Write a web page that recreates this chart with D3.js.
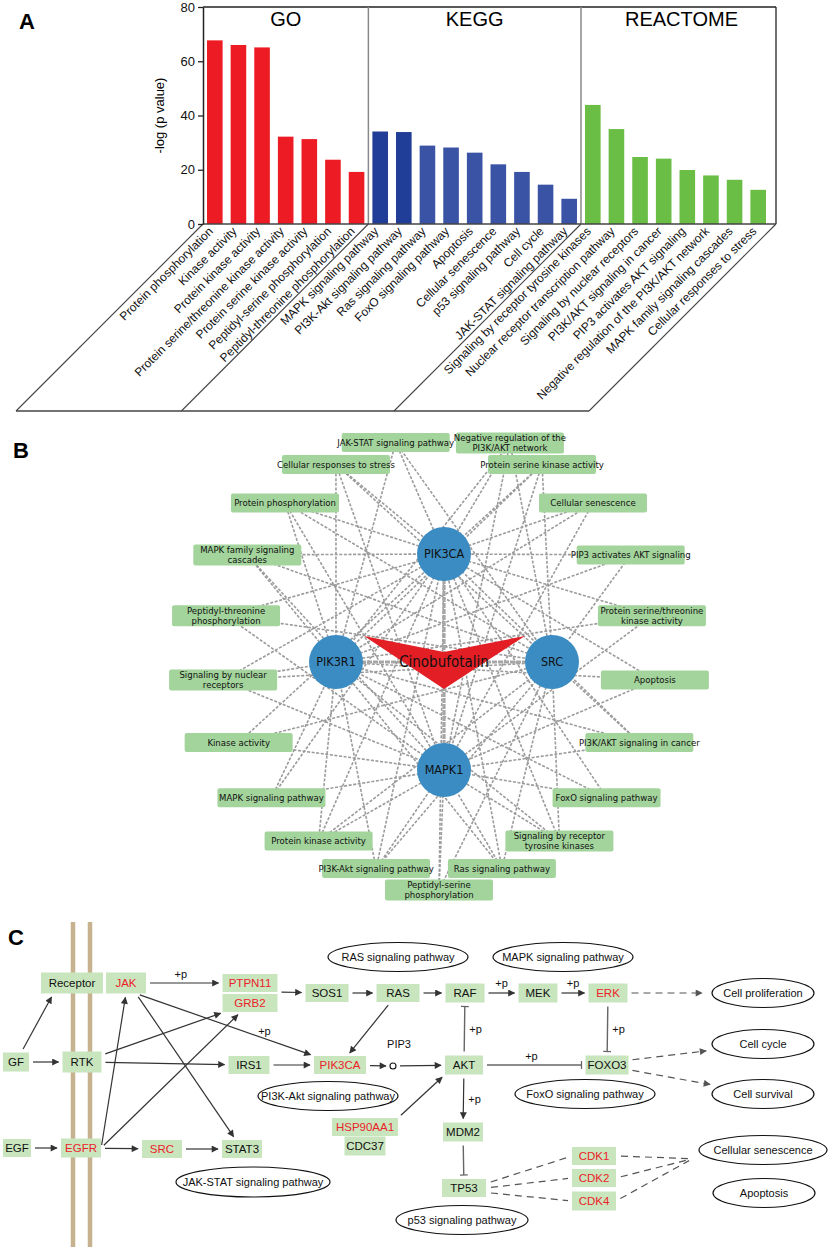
<!DOCTYPE html>
<html>
<head>
<meta charset="utf-8">
<script src="https://cdn.jsdelivr.net/npm/d3@7"></script>
<style>
  body { margin: 0; background: #fff; }
  svg { display: block; font-family: "Liberation Sans", Arial, sans-serif; }
  .narrow { font-family: "Liberation Sans Narrow", "Arial Narrow", "DejaVu Sans Condensed", sans-serif; }
</style>
</head>
<body>
<svg id="fig" width="830" height="1250"></svg>
<script>
// ---------- Panel A data ----------
const goTerms = ["Protein phosphorylation", "Kinase activity", "Protein kinase activity",
  "Protein serine/threonine kinase activity", "Protein serine kinase activity",
  "Peptidyl-serine phosphorylation", "Peptidyl-threonine phosphorylation"];
const goValues = [67.7, 66.0, 65.1, 32.2, 31.3, 23.7, 19.2];

const keggTerms = ["MAPK signaling pathway", "PI3K-Akt signaling pathway", "Ras signaling pathway",
  "FoxO signaling pathway", "Apoptosis", "Cellular senescence", "p53 signaling pathway",
  "Cell cycle", "JAK-STAT signaling pathway"];
const keggValues = [34.1, 33.9, 28.9, 28.2, 26.3, 22.0, 19.2, 14.5, 9.3];

const reactomeTerms = ["Signaling by receptor tyrosine kinases", "Nuclear receptor transcription pathway",
  "Signaling by nuclear receptors", "PI3K/AKT signaling in cancer", "PIP3 activates AKT signaling",
  "Negative regulation of the PI3K/AKT network", "MAPK family signaling cascades",
  "Cellular responses to stress"];
const reactomeValues = [43.9, 35.0, 24.7, 24.1, 19.9, 17.9, 16.3, 12.6];

const groupNames = ["GO", "KEGG", "REACTOME"];
const yTicks = [0, 20, 40, 60, 80];

// ---------- Panel B data ----------
const genes = ["PIK3CA", "SRC", "MAPK1", "PIK3R1"];   // clockwise from top
const compound = "Cinobufotalin";
// pathway terms, clockwise from top right
const netTerms = [
  ["Negative regulation of the", "PI3K/AKT network"],
  ["Protein serine kinase activity"],
  ["Cellular senescence"],
  ["PIP3 activates AKT signaling"],
  ["Protein serine/threonine", "kinase activity"],
  ["Apoptosis"],
  ["PI3K/AKT signaling in cancer"],
  ["FoxO signaling pathway"],
  ["Signaling by receptor", "tyrosine kinases"],
  ["Ras signaling pathway"],
  ["Peptidyl-serine", "phosphorylation"],
  ["PI3K-Akt signaling pathway"],
  ["Protein kinase activity"],
  ["MAPK signaling pathway"],
  ["Kinase activity"],
  ["Signaling by nuclear", "receptors"],
  ["Peptidyl-threonine", "phosphorylation"],
  ["MAPK family signaling", "cascades"],
  ["Protein phosphorylation"],
  ["Cellular responses to stress"],
  ["JAK-STAT signaling pathway"]
];
const termGenes = [
  ["PIK3CA", "PIK3R1", "SRC", "MAPK1"],
  ["PIK3CA", "PIK3R1", "SRC", "MAPK1"],
  ["PIK3CA", "PIK3R1", "MAPK1"],
  ["PIK3CA", "PIK3R1", "SRC"],
  ["PIK3CA", "MAPK1", "PIK3R1"],
  ["PIK3CA", "PIK3R1", "MAPK1"],
  ["PIK3CA", "PIK3R1", "SRC", "MAPK1"],
  ["PIK3CA", "PIK3R1", "MAPK1"],
  ["PIK3CA", "PIK3R1", "SRC", "MAPK1"],
  ["PIK3CA", "PIK3R1", "SRC", "MAPK1"],
  ["PIK3CA", "MAPK1", "SRC"],
  ["PIK3CA", "PIK3R1", "SRC", "MAPK1"],
  ["PIK3CA", "SRC", "MAPK1", "PIK3R1"],
  ["PIK3CA", "PIK3R1", "MAPK1"],
  ["PIK3CA", "SRC", "MAPK1"],
  ["PIK3CA", "PIK3R1", "SRC", "MAPK1"],
  ["PIK3CA", "MAPK1", "SRC"],
  ["PIK3CA", "PIK3R1", "SRC", "MAPK1"],
  ["PIK3CA", "PIK3R1", "SRC", "MAPK1"],
  ["PIK3CA", "PIK3R1", "SRC", "MAPK1"],
  ["PIK3CA", "PIK3R1", "SRC"]
];

// ---------- Panel C data ----------
const cGenes = ["Receptor", "JAK", "PTPN11", "GRB2", "SOS1", "RAS", "RAF", "MEK", "ERK", "GF", "RTK",
  "IRS1", "PIK3CA", "AKT", "FOXO3", "HSP90AA1", "CDC37", "MDM2", "EGF", "EGFR", "SRC", "STAT3",
  "TP53", "CDK1", "CDK2", "CDK4"];
const cHits = ["JAK", "PTPN11", "GRB2", "ERK", "PIK3CA", "HSP90AA1", "EGFR", "SRC", "CDK1", "CDK2", "CDK4"];
const cPathways = ["RAS signaling pathway", "MAPK signaling pathway", "PI3K-Akt signaling pathway",
  "FoxO signaling pathway", "JAK-STAT signaling pathway", "p53 signaling pathway"];
const cOutcomes = ["Cell proliferation", "Cell cycle", "Cell survival", "Cellular senescence", "Apoptosis"];
const cMetabolite = "PIP3";
// [source, target, kind, label]
const cEdges = [
  ["GF", "Receptor", "act", ""], ["GF", "RTK", "act", ""], ["EGF", "EGFR", "act", ""],
  ["JAK", "PTPN11", "act", "+p"],
  ["PTPN11", "SOS1", "act", ""], ["SOS1", "RAS", "act", ""], ["RAS", "RAF", "act", ""],
  ["RAF", "MEK", "act", "+p"], ["MEK", "ERK", "act", "+p"], ["ERK", "Cell proliferation", "dash", ""],
  ["RAS", "PIK3CA", "act", ""], ["RTK", "IRS1", "act", ""], ["IRS1", "PIK3CA", "act", ""],
  ["PIK3CA", "PIP3", "act", ""], ["PIP3", "AKT", "act", ""], ["RTK", "GRB2", "act", ""],
  ["JAK", "PIK3CA", "act", "+p"], ["JAK", "STAT3", "act", ""], ["EGFR", "JAK", "act", ""],
  ["EGFR", "GRB2", "act", ""], ["EGFR", "SRC", "act", ""], ["SRC", "STAT3", "act", ""],
  ["HSP90AA1", "AKT", "act", ""], ["AKT", "RAF", "inh", "+p"], ["ERK", "FOXO3", "inh", "+p"],
  ["AKT", "FOXO3", "inh", "+p"], ["FOXO3", "Cell cycle", "dash", ""], ["FOXO3", "Cell survival", "dash", ""],
  ["AKT", "MDM2", "act", "+p"], ["MDM2", "TP53", "inh", ""],
  ["TP53", "CDK1", "link", ""], ["TP53", "CDK2", "link", ""], ["TP53", "CDK4", "link", ""],
  ["CDK1", "Cellular senescence", "link", ""], ["CDK2", "Cellular senescence", "link", ""],
  ["CDK4", "Cellular senescence", "link", ""]
];

// ---------- Panel C layout (diagram units, kept apart from the data) ----------
const layoutC = {
  Receptor: [72, 63, 62, 21], JAK: [126, 63, 40, 21], PTPN11: [250, 63, 55, 18], GRB2: [250, 83, 55, 18],
  SOS1: [327, 73, 43, 18], RAS: [398, 73, 43, 18], RAF: [465, 73, 39, 19], MEK: [538, 73, 39, 19],
  ERK: [608, 73, 39, 19], GF: [16, 142, 26, 19], RTK: [82, 142, 39, 21], IRS1: [249, 145, 41, 18],
  PIK3CA: [340, 145, 52, 18], AKT: [464, 145, 38, 19], FOXO3: [607, 145, 43, 19],
  HSP90AA1: [365, 207, 66, 18], CDC37: [365, 226, 41, 19], MDM2: [463, 212, 40, 19],
  EGF: [17, 228, 28, 18], EGFR: [81, 228, 40, 19], SRC: [162, 229, 40, 18], STAT3: [242, 229, 40, 18],
  TP53: [464, 268, 44, 18], CDK1: [594, 236, 44, 18], CDK2: [594, 258, 44, 18], CDK4: [594, 281, 44, 19],
  "RAS signaling pathway": [398, 37, 70, 14.5], "MAPK signaling pathway": [563, 37, 70, 14.5],
  "Cell proliferation": [763, 73, 51, 14.5], "Cell cycle": [763, 124, 51, 14.5],
  "PI3K-Akt signaling pathway": [328, 176, 70, 14.5], "FoxO signaling pathway": [585, 174, 70, 14.5],
  "Cell survival": [763, 174, 51, 14.5], "Cellular senescence": [763, 230, 64, 14.5],
  "JAK-STAT signaling pathway": [253, 262, 77, 15], "Apoptosis": [764, 273, 51, 14.5],
  "p53 signaling pathway": [462, 300, 66, 14.5], PIP3: [393, 146, 3, 3]
};
// optional edge anchors (fraction of half size) and label placement
const anchorsC = {
  "GF>Receptor": {ta: [-0.6, 1]}, "PTPN11>SOS1": {sa: [1, 1]},
  "JAK>PIK3CA": {sa: [0.5, 1]}, "JAK>STAT3": {sa: [0.5, 1]},
  "EGFR>JAK": {sa: [1, 0.1], ta: [0, 1]}, "EGFR>GRB2": {sa: [1, 0]},
  "HSP90AA1>AKT": {sa: [1, -1], ta: [-1, 1]},
  "FOXO3>Cell cycle": {sa: [1, -0.5]}, "FOXO3>Cell survival": {sa: [1, 0.5]},
  "TP53>CDK1": {sa: [1, -0.5], ta: [-1, 0]}, "TP53>CDK2": {sa: [1, 0], ta: [-1, 0]},
  "TP53>CDK4": {sa: [1, 0.5], ta: [-1, 0]},
  "CDK1>Cellular senescence": {sa: [1, 0], ta: [-1.1, 0.6]},
  "CDK2>Cellular senescence": {sa: [1, 0], ta: [-1.1, 0.6]},
  "CDK4>Cellular senescence": {sa: [1, 0], ta: [-1.1, 0.6]}
};
const labelPosC = {
  "JAK>PTPN11": [0.45, 0, -5], "RAF>MEK": [0.5, 0, -6], "MEK>ERK": [0.5, 0, -6],
  "JAK>PIK3CA": [0.73, 0, -4], "AKT>RAF": [0.5, 11, 4], "ERK>FOXO3": [0.5, 11, 4],
  "AKT>FOXO3": [0.47, 0, -5], "AKT>MDM2": [0.5, 11, 4]
};

const svg = d3.select("#fig");

// panel letters
svg.selectAll(".letter").data([["A", 19, 29], ["B", 13, 458], ["C", 8, 945]])
  .join("text").attr("x", d => d[1]).attr("y", d => d[2])
  .attr("font-size", 22).attr("font-weight", "bold").text(d => d[0]);

// ================= Panel A =================
const A = svg.append("g");
const barTerms = goTerms.concat(keggTerms, reactomeTerms);
const barValues = goValues.concat(keggValues, reactomeValues);
const barGroup = goTerms.map(() => 0).concat(keggTerms.map(() => 1), reactomeTerms.map(() => 2));
const groupStart = [0, goTerms.length, goTerms.length + keggTerms.length];

const x = d3.scaleBand().domain(barTerms).range([203, 770]).paddingInner(0.34).paddingOuter(0.17);
const y = d3.scaleLinear().domain([0, 80]).range([224, 7]);
const frameRight = 776;
const labelDepth = 187;

function barColor(i) {
  const g = barGroup[i];
  if (g === 0) return "#ed1c24";
  if (g === 1) return (i - groupStart[1]) < 2 ? "#203e97" : "#3a53a4";
  return "#6abd45";
}

A.selectAll(".bar").data(barTerms).join("rect")
  .attr("x", d => x(d)).attr("width", x.bandwidth())
  .attr("y", (d, i) => y(barValues[i])).attr("height", (d, i) => y(0) - y(barValues[i]))
  .attr("fill", (d, i) => barColor(i));

// group boundaries
const gap = x.step() * x.paddingInner() / 2;
const bounds = [x.range()[0],
  x(barTerms[groupStart[1]]) - gap, x(barTerms[groupStart[2]]) - gap, frameRight];

// frame
A.append("line").attr("x1", bounds[0]).attr("x2", bounds[3]).attr("y1", y(80)).attr("y2", y(80))
  .attr("stroke", "#222").attr("stroke-width", 1.3);
A.append("line").attr("x1", bounds[3]).attr("x2", bounds[3]).attr("y1", y(80)).attr("y2", y(0))
  .attr("stroke", "#222").attr("stroke-width", 1.3);
A.selectAll(".div").data(bounds.slice(1, 3)).join("line")
  .attr("x1", d => d).attr("x2", d => d).attr("y1", y(80)).attr("y2", y(0))
  .attr("stroke", "#888").attr("stroke-width", 1.5);
A.append("line").attr("x1", bounds[0]).attr("x2", bounds[3]).attr("y1", y(0)).attr("y2", y(0))
  .attr("stroke", "#444").attr("stroke-width", 1.3);
// skewed label box
A.selectAll(".diag").data(bounds).join("line")
  .attr("x1", d => d).attr("y1", y(0)).attr("x2", d => d - labelDepth).attr("y2", y(0) + labelDepth)
  .attr("stroke", "#444").attr("stroke-width", 1.1);
A.append("line").attr("x1", bounds[0] - labelDepth).attr("x2", bounds[3] - labelDepth)
  .attr("y1", y(0) + labelDepth).attr("y2", y(0) + labelDepth)
  .attr("stroke", "#444").attr("stroke-width", 1.3);

// headers
A.selectAll(".hdr").data(groupNames).join("text")
  .attr("x", (d, i) => (bounds[i] + bounds[i + 1]) / 2 + (i === 2 ? 3 : 0)).attr("y", 26)
  .attr("text-anchor", "middle").attr("font-size", 20).text(d => d);

// y axis
const yAxis = A.append("g").attr("transform", `translate(${bounds[0]},0)`)
  .call(d3.axisLeft(y).tickValues(yTicks).tickSize(5).tickSizeOuter(0).tickPadding(3));
yAxis.select(".domain").attr("stroke", "#222").attr("stroke-width", 1.5);
yAxis.selectAll(".tick line").attr("stroke", "#222").attr("stroke-width", 1.3);
yAxis.selectAll("text").attr("font-size", 13).attr("fill", "#111")
  .attr("font-family", "'Liberation Sans', Arial, sans-serif");
A.append("text").attr("transform", `translate(164,${(y(0) + y(80)) / 2}) rotate(-90)`)
  .attr("text-anchor", "middle").attr("font-size", 13).text("-log (p value)");

// category labels
A.selectAll(".xl").data(barTerms).join("text")
  .attr("transform", d => `translate(${x(d) + x.bandwidth() / 2 - 4},${y(0) + 5}) rotate(-45)`)
  .attr("text-anchor", "end").attr("dy", "0.35em").attr("font-size", 12).attr("fill", "#111")
  .text(d => d);

// ================= Panel B =================
const B = svg.append("g");
const rad = d => d * Math.PI / 180;
const termCenter = {x: 439, y: 658}, termR = {x: 217, y: 220};
const geneCenter = {x: 444, y: 662}, geneR = 108;
// angles around the ring: a wider gap on the top right, even spacing elsewhere
const termAngle = d3.scaleLinear().domain([0, 1, netTerms.length - 1]).range([18.5, 28.35, 348.5]);
const geneAngle = d3.scalePoint().domain(genes).range([0, 270]);
// the top-right and bottom terms sit a little further out so that they clear their neighbours
const termRadial = i => i === 10 ? 1.055 : i === 0 ? 1.03 : 1;

const termNodes = netTerms.map((lines, i) => ({
  lines, genes: termGenes[i],
  x: termCenter.x + termRadial(i) * termR.x * Math.sin(rad(termAngle(i))),
  y: termCenter.y - termRadial(i) * termR.y * Math.cos(rad(termAngle(i)))
}));
const geneNodes = genes.map(g => ({
  id: g,
  x: geneCenter.x + geneR * Math.sin(rad(geneAngle(g))),
  y: geneCenter.y - geneR * Math.cos(rad(geneAngle(g)))
}));
const geneById = Object.fromEntries(geneNodes.map(g => [g.id, g]));
const links = termNodes.flatMap(t => t.genes.map(g => [t, geneById[g]]));

B.selectAll(".link").data(links).join("line")
  .attr("x1", d => d[0].x).attr("y1", d => d[0].y).attr("x2", d => d[1].x).attr("y2", d => d[1].y)
  .attr("stroke", "#9b9b9b").attr("stroke-width", 1.6).attr("stroke-dasharray", "3,1.6");

B.selectAll(".clink").data(geneNodes).join("line")
  .attr("x1", geneCenter.x).attr("y1", geneCenter.y).attr("x2", d => d.x).attr("y2", d => d.y)
  .attr("stroke", "#a6a6a6").attr("stroke-width", 3.2).attr("stroke-dasharray", "5,1");

const boxW = 108;
const tb = B.selectAll(".term").data(termNodes).join("g")
  .attr("transform", d => `translate(${d.x},${d.y})`);
tb.append("rect")
  .attr("x", -boxW / 2).attr("width", boxW)
  .attr("y", d => d.lines.length > 1 ? -10.5 : -9.5).attr("height", d => d.lines.length > 1 ? 21 : 19)
  .attr("rx", 2).attr("fill", "#a3d49c");
tb.each(function (d) {
  const g = d3.select(this);
  d.lines.forEach((t, k) => {
    g.append("text").attr("class", "narrow").attr("text-anchor", "middle")
      .attr("y", d.lines.length > 1 ? (k === 0 ? -5 : 5) : 0).attr("dy", "0.35em")
      .attr("font-size", 9.5).attr("fill", "#111").text(t);
  });
});

// compound chevron
const chevron = [[-80, -26], [0, -10], [81, -26], [0, 27]];
B.append("path")
  .attr("d", d3.line()(chevron.map(p => [geneCenter.x + p[0], geneCenter.y + p[1]])) + "Z")
  .attr("fill", "#e31e25");

const gn = B.selectAll(".gene").data(geneNodes).join("g")
  .attr("transform", d => `translate(${d.x},${d.y})`);
gn.append("circle").attr("r", 27).attr("fill", "#3a8cc2");
gn.append("text").attr("class", "narrow").attr("text-anchor", "middle").attr("dy", "0.35em")
  .attr("font-size", 12.5).attr("fill", "#111").text(d => d.id);

B.append("text").attr("class", "narrow").attr("x", geneCenter.x).attr("y", geneCenter.y)
  .attr("text-anchor", "middle").attr("dy", "0.35em").attr("font-size", 15).attr("fill", "#111")
  .text(compound);

// ================= Panel C =================
const C = svg.append("g");
const xC = d3.scaleLinear().domain([0, 830]).range([0, 830]);
const yC = d3.scaleLinear().domain([0, 330]).range([920, 1250]);

const defs = svg.append("defs");
function arrowMarker(id, color) {
  defs.append("marker").attr("id", id).attr("viewBox", "0 0 10 10").attr("refX", 9).attr("refY", 5)
    .attr("markerUnits", "userSpaceOnUse").attr("markerWidth", 9).attr("markerHeight", 7)
    .attr("orient", "auto").append("path").attr("d", "M0,0L10,5L0,10Z").attr("fill", color);
}
arrowMarker("arr", "#333");
arrowMarker("arrd", "#555");
defs.append("marker").attr("id", "tbar").attr("viewBox", "0 0 10 10").attr("refX", 5).attr("refY", 5)
  .attr("markerUnits", "userSpaceOnUse").attr("markerWidth", 8).attr("markerHeight", 8)
  .attr("orient", "auto").append("path").attr("d", "M5,0L5,10").attr("stroke", "#666")
  .attr("stroke-width", 1.6);

// node table
const nodeC = {};
cGenes.forEach(n => { const p = layoutC[n]; nodeC[n] = {id: n, shape: "box", cx: xC(p[0]), cy: yC(p[1]), hw: p[2] / 2, hh: p[3] / 2}; });
cPathways.concat(cOutcomes, [cMetabolite]).forEach(n => {
  const p = layoutC[n]; nodeC[n] = {id: n, shape: "ellipse", cx: xC(p[0]), cy: yC(p[1]), hw: p[2], hh: p[3]};
});

function boundary(n, px, py) {
  const dx = px - n.cx, dy = py - n.cy;
  let t;
  if (n.shape === "ellipse") t = 1 / Math.sqrt((dx / n.hw) ** 2 + (dy / n.hh) ** 2);
  else t = Math.min(n.hw / Math.max(Math.abs(dx), 1e-6), n.hh / Math.max(Math.abs(dy), 1e-6));
  return [n.cx + dx * t, n.cy + dy * t];
}
const anchorAt = (n, a) => [n.cx + a[0] * n.hw, n.cy + a[1] * n.hh];
function shorten(p, q, d) {
  const L = Math.hypot(q[0] - p[0], q[1] - p[1]);
  return [p[0] + (q[0] - p[0]) * d / L, p[1] + (q[1] - p[1]) * d / L];
}

const edgeGeom = cEdges.map(([s, t, kind, label]) => {
  const key = s + ">" + t, an = anchorsC[key] || {};
  const S = nodeC[s], T = nodeC[t];
  let p0 = an.sa ? anchorAt(S, an.sa) : null;
  let p1 = an.ta ? anchorAt(T, an.ta) : null;
  if (!p0) p0 = boundary(S, p1 ? p1[0] : T.cx, p1 ? p1[1] : T.cy);
  if (!p1) p1 = boundary(T, p0[0], p0[1]);
  const pad0 = kind === "link" ? 5 : 4;
  const pad1 = kind === "dash" ? 10 : 4;
  const a = shorten(p0, p1, pad0), b = shorten(p1, p0, pad1);
  return {key, kind, label, a, b};
});

// membrane
C.selectAll(".mem").data([73, 90]).join("line")
  .attr("x1", d => xC(d)).attr("x2", d => xC(d)).attr("y1", yC(2)).attr("y2", yC(327))
  .attr("stroke", "#c6b28f").attr("stroke-width", 4.5);

C.selectAll(".edge").data(edgeGeom).join("line")
  .attr("x1", d => d.a[0]).attr("y1", d => d.a[1]).attr("x2", d => d.b[0]).attr("y2", d => d.b[1])
  .attr("stroke", d => d.kind === "inh" ? "#666" : d.kind === "act" ? "#333" : "#555")
  .attr("stroke-width", d => d.kind === "inh" ? 1.4 : 1.2)
  .attr("stroke-dasharray", d => (d.kind === "dash" || d.kind === "link") ? "7,5" : null)
  .attr("marker-end", d => d.kind === "act" ? "url(#arr)" : d.kind === "dash" ? "url(#arrd)" : d.kind === "inh" ? "url(#tbar)" : null);

C.selectAll(".elab").data(edgeGeom.filter(d => d.label)).join("text")
  .attr("x", d => { const l = labelPosC[d.key]; return d.a[0] + (d.b[0] - d.a[0]) * l[0] + l[1]; })
  .attr("y", d => { const l = labelPosC[d.key]; return d.a[1] + (d.b[1] - d.a[1]) * l[0] + l[2]; })
  .attr("text-anchor", "middle").attr("font-size", 11).attr("fill", "#111").text(d => d.label);

// gene boxes
const boxes = C.selectAll(".gbox").data(cGenes.map(n => nodeC[n])).join("g");
boxes.append("rect").attr("x", d => d.cx - d.hw).attr("y", d => d.cy - d.hh)
  .attr("width", d => d.hw * 2).attr("height", d => d.hh * 2).attr("fill", "#c8e5bd");
boxes.append("text").attr("x", d => d.cx).attr("y", d => d.cy).attr("dy", "0.36em")
  .attr("text-anchor", "middle").attr("font-size", 11.5)
  .attr("fill", d => cHits.includes(d.id) ? "#ec2229" : "#111").text(d => d.id);

// pathway and outcome ellipses
const ells = C.selectAll(".ell").data(cPathways.concat(cOutcomes).map(n => nodeC[n])).join("g");
ells.append("ellipse").attr("cx", d => d.cx).attr("cy", d => d.cy).attr("rx", d => d.hw).attr("ry", d => d.hh)
  .attr("fill", "#fff").attr("stroke", "#111").attr("stroke-width", 1.2);
ells.append("text").attr("x", d => d.cx).attr("y", d => d.cy).attr("dy", "0.36em")
  .attr("text-anchor", "middle").attr("font-size", 11).attr("fill", "#111").text(d => d.id);

// PIP3
const pip = nodeC[cMetabolite];
C.append("circle").attr("cx", pip.cx).attr("cy", pip.cy).attr("r", pip.hw)
  .attr("fill", "#fff").attr("stroke", "#111").attr("stroke-width", 1.1);
C.append("text").attr("x", pip.cx + 6).attr("y", pip.cy - 18).attr("text-anchor", "middle")
  .attr("font-size", 11).attr("fill", "#111").text(cMetabolite);
</script>
</body>
</html>
